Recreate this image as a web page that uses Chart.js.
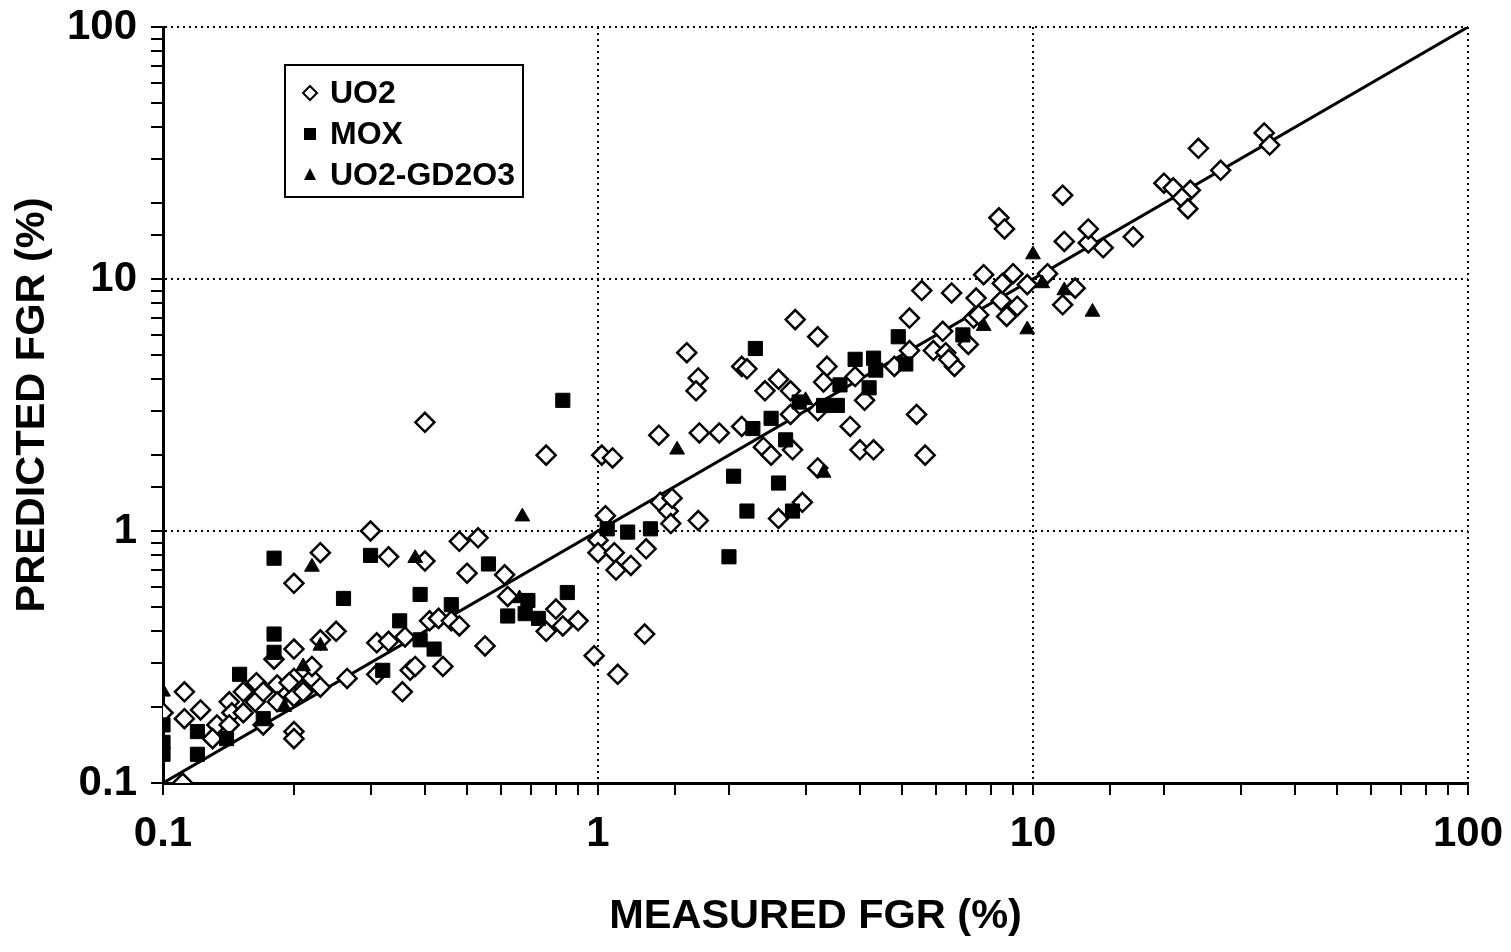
<!DOCTYPE html>
<html>
<head>
<meta charset="utf-8">
<script src="https://cdn.jsdelivr.net/npm/chart.js@4.4.1/dist/chart.umd.min.js"></script>
<style>
  html, body { margin: 0; padding: 0; background: #fff; }
  #wrap { width: 1511px; height: 952px; }
</style>
</head>
<body>
<div id="wrap"><canvas id="fgr" width="1511" height="952"></canvas></div>
<script>
// measured vs predicted FGR (%)
const seriesNames = ["UO2", "MOX", "UO2-GD2O3"];

const uo2X = [
  0.1, 0.112, 0.112, 0.111, 0.122, 0.133, 0.13, 0.142, 0.144, 0.142,
  0.153, 0.153, 0.164, 0.163, 0.17, 0.17, 0.183, 0.183, 0.18, 0.2,
  0.2, 0.2, 0.2, 0.2, 0.2, 0.195, 0.21, 0.22, 0.22, 0.23,
  0.23, 0.23, 0.25, 0.265, 0.3, 0.33, 0.31, 0.33, 0.36, 0.31,
  0.355, 0.37, 0.38, 0.4, 0.4, 0.41, 0.43, 0.44, 0.46, 0.48,
  0.48, 0.5, 0.53, 0.55, 0.61, 0.62, 0.76, 0.76, 0.8, 0.83,
  0.9, 0.98, 1.02, 1.08, 1.04, 1.0, 1.0, 1.09, 1.1, 1.19,
  1.11, 1.28, 1.29, 1.38, 1.39, 1.45, 1.48, 1.47, 1.71, 1.9,
  1.7, 1.6, 1.7, 1.68, 2.14, 2.2, 2.14, 2.4, 2.5, 2.8,
  2.6, 2.42, 2.77, 2.84, 3.2, 2.95, 2.6, 3.2, 3.8, 4.0,
  4.3, 5.4, 5.65, 3.36, 3.3, 3.9, 4.1, 3.2, 2.77, 4.8,
  5.2, 5.9, 6.3, 6.2, 6.6, 7.1, 7.3, 5.2, 5.55, 6.5,
  7.4, 8.45, 9.2, 8.7, 7.5, 7.7, 9.0, 8.5, 9.7, 10.8,
  12.5, 11.7, 14.5, 13.4, 11.8, 13.4, 11.7, 8.35, 8.6, 17,
  20, 21, 23, 22, 22.7, 24, 27, 34, 35, 6.4
];
const uo2Y = [
  0.19, 0.23, 0.18, 0.1, 0.195, 0.17, 0.15, 0.21, 0.19, 0.17,
  0.23, 0.19, 0.25, 0.21, 0.23, 0.17, 0.245, 0.21, 0.31, 0.62,
  0.34, 0.26, 0.22, 0.16, 0.15, 0.25, 0.23, 0.26, 0.29, 0.24,
  0.82, 0.37, 0.4, 0.26, 1.0, 0.79, 0.36, 0.365, 0.38, 0.27,
  0.23, 0.28, 0.29, 2.7, 0.76, 0.44, 0.45, 0.29, 0.44, 0.91,
  0.42, 0.68, 0.94, 0.35, 0.67, 0.55, 2.0, 0.4, 0.49, 0.42,
  0.44, 0.32, 2.0, 1.95, 1.15, 0.92, 0.82, 0.82, 0.7, 0.73,
  0.27, 0.39, 0.85, 2.4, 1.3, 1.2, 1.35, 1.07, 2.45, 2.45,
  1.1, 5.1, 4.05, 3.6, 4.5, 4.4, 2.6, 2.15, 2.0, 2.1,
  4.0, 3.6, 3.6, 6.9, 5.9, 1.3, 1.12, 1.78, 2.6, 2.1,
  2.1, 2.9, 2.0, 4.5, 3.9, 4.1, 3.3, 3.0, 2.9, 4.5,
  5.2, 5.2, 5.1, 6.2, 4.5, 5.5, 7.0, 7.0, 9.0, 8.8,
  8.4, 8.2, 7.8, 7.1, 7.2, 10.4, 10.5, 9.6, 9.5, 10.5,
  9.2, 7.9, 13.3, 13.9, 14.1, 15.8, 21.5, 17.5, 15.8, 14.7,
  24, 23, 22.5, 21, 19, 33, 27, 38, 34, 4.8
];

const moxX = [
  0.1, 0.1, 0.1, 0.12, 0.12, 0.14, 0.15, 0.17, 0.18, 0.18,
  0.18, 0.26, 0.3, 0.32, 0.35, 0.39, 0.39, 0.42, 0.46, 0.56,
  0.62, 0.69, 0.68, 0.73, 0.85, 0.83, 1.05, 1.17, 1.32, 2.0,
  2.05, 2.2, 2.27, 2.3, 2.5, 2.6, 2.7, 2.8, 2.9, 3.3,
  3.55, 3.6, 3.9, 4.3, 4.35, 4.2, 4.9, 5.1, 6.9
];
const moxY = [
  0.17, 0.145, 0.13, 0.16, 0.13, 0.15, 0.27, 0.18, 0.39, 0.33,
  0.78, 0.54, 0.8, 0.28, 0.44, 0.56, 0.37, 0.34, 0.51, 0.74,
  0.46, 0.53, 0.47, 0.45, 0.57, 3.3, 1.02, 0.99, 1.02, 0.79,
  1.65, 1.2, 2.55, 5.3, 2.8, 1.55, 2.3, 1.2, 3.25, 3.15,
  3.15, 3.8, 4.8, 4.85, 4.35, 3.7, 5.9, 4.6, 6.0
];

const gdX = [0.1, 0.19, 0.21, 0.23, 0.22, 0.38, 0.66, 0.67, 1.52, 3.0, 3.3, 7.7, 9.7, 10, 10.5, 11.8, 13.7];
const gdY = [0.23, 0.2, 0.29, 0.35, 0.72, 0.78, 0.54, 1.14, 2.1, 3.3, 1.7, 6.5, 6.3, 12.5, 9.6, 9.0, 7.4];

// 1:1 line
const fitX = [0.1, 100];
const fitY = [0.1, 100];

const FONT = '"Liberation Sans", Arial, Helvetica, sans-serif';

function pts(xs, ys) {
  return xs.map((x, i) => ({ x, y: ys[i] }));
}

function isDecade(v) {
  const l = Math.log10(v);
  return Math.abs(l - Math.round(l)) < 1e-6;
}

function decadeLabel(v) {
  return isDecade(v) ? String(Number(v.toPrecision(6))) : "";
}

function drawMarker(ctx, kind, x, y) {
  ctx.beginPath();
  if (kind === 0) {
    ctx.moveTo(x, y - 7); ctx.lineTo(x + 7, y); ctx.lineTo(x, y + 7); ctx.lineTo(x - 7, y); ctx.closePath();
    ctx.fillStyle = "#fff"; ctx.fill();
    ctx.lineWidth = 2; ctx.strokeStyle = "#000"; ctx.stroke();
  } else if (kind === 1) {
    ctx.fillStyle = "#000"; ctx.fillRect(x - 6, y - 6, 12, 12);
  } else {
    ctx.moveTo(x, y - 7); ctx.lineTo(x + 6, y + 5); ctx.lineTo(x - 6, y + 5); ctx.closePath();
    ctx.fillStyle = "#000"; ctx.fill();
  }
}

const legendBox = {
  id: "legendBox",
  afterDatasetsDraw(chart) {
    const ctx = chart.ctx, a = chart.chartArea;
    const x0 = a.left + 122, y0 = a.top + 38, w = 238, h = 132;
    ctx.save();
    ctx.fillStyle = "#fff";
    ctx.fillRect(x0, y0, w, h);
    ctx.strokeStyle = "#000";
    ctx.lineWidth = 2;
    ctx.strokeRect(x0, y0, w, h);
    ctx.font = "bold 32px " + FONT;
    ctx.textBaseline = "middle";
    seriesNames.forEach((name, i) => {
      const cx = x0 + 25, cy = y0 + 28 + i * 41;
      drawMarker(ctx, i, cx, cy);
      ctx.fillStyle = "#000";
      ctx.fillText(name, cx + 20, cy + 1);
    });
    ctx.restore();
  }
};

function axis(title, pad, fitFn) {
  return {
    type: "logarithmic",
    min: 0.1,
    max: 100,
    afterFit: fitFn,
    border: { display: true, color: "#000", width: 3, dash: [2, 4] },
    grid: {
      color: (c) => (c.tick && isDecade(c.tick.value) ? "#000" : "rgba(0,0,0,0)"),
      lineWidth: 2,
      tickColor: "#000",
      tickWidth: 2,
      tickLength: 12,
      tickBorderDash: []
    },
    ticks: {
      autoSkip: false,
      maxRotation: 0,
      padding: pad,
      color: "#000",
      font: { family: FONT, size: 42, weight: "bold" },
      callback: decadeLabel
    },
    title: {
      display: true,
      text: title,
      color: "#000",
      font: { family: FONT, size: 41.5, weight: "bold" }
    }
  };
}

// fixed axis boxes; label overflow is covered by the layout padding instead
const xAxis = axis("MEASURED FGR (%)", 14, (s) => {
  s.height = 169;
  s.paddingLeft = 0;
  s.paddingRight = 0;
});
xAxis.title.padding = { top: 0, bottom: 11 };
const yAxis = axis("PREDICTED FGR (%)", 14, (s) => {
  s.width = 163;
  s.paddingTop = 0;
  s.paddingBottom = 0;
});
yAxis.title.padding = { top: 8, bottom: 0 };

new Chart(document.getElementById("fgr").getContext("2d"), {
  type: "scatter",
  data: {
    datasets: [
      { label: seriesNames[0], data: pts(uo2X, uo2Y), order: 3, pointStyle: "rectRot", pointRadius: 9.5, pointBackgroundColor: "#fff", pointBorderColor: "#000", pointBorderWidth: 2.5 },
      { label: seriesNames[1], data: pts(moxX, moxY), order: 2, pointStyle: "rect", pointRadius: 10, pointBackgroundColor: "#000", pointBorderColor: "#000", pointBorderWidth: 1 },
      { label: seriesNames[2], data: pts(gdX, gdY), order: 1, pointStyle: "triangle", pointRadius: 8.5, pointBackgroundColor: "#000", pointBorderColor: "#000", pointBorderWidth: 1 },
      { label: "1:1", data: pts(fitX, fitY), order: 4, showLine: true, pointRadius: 0, borderColor: "#000", borderWidth: 3 }
    ]
  },
  options: {
    responsive: false,
    animation: false,
    events: [],
    layout: { padding: { top: 27, right: 43, left: 0, bottom: 0 } },
    plugins: { legend: { display: false }, tooltip: { enabled: false } },
    scales: { x: xAxis, y: yAxis }
  },
  plugins: [legendBox]
});
</script>
</body>
</html>
